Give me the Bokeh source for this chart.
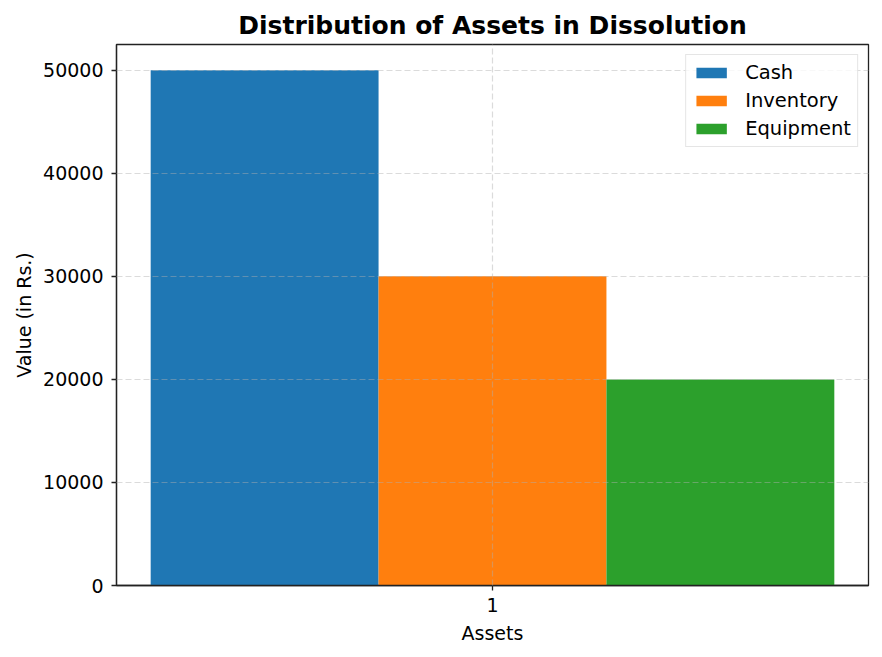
from bokeh.plotting import figure
from bokeh.models import Range1d, FixedTicker, Legend, LegendItem, ColumnDataSource
from bokeh.embed import file_html
from bokeh.resources import INLINE

categories = ["Cash", "Inventory", "Equipment"]
values = [50000, 30000, 20000]
colors = ["#1f77b4", "#ff7f0e", "#2ca02c"]
group_x = 1
bar_width = 0.3
offsets = [-0.3, 0.0, 0.3]
y_ticks = [0, 10000, 20000, 30000, 40000, 50000]

FONT = "DejaVu Sans"

p = figure(width=882, height=657, output_backend="svg", toolbar_location=None,
           x_range=Range1d(0.505, 1.495), y_range=Range1d(0, 52500),
           min_border_left=116, min_border_right=14, min_border_top=44,
           min_border_bottom=72)

renderers = []
for c, v, col, off in zip(categories, values, colors, offsets):
    src = ColumnDataSource(dict(x=[group_x + off], top=[v]))
    r = p.vbar(x="x", top="top", bottom=0, width=bar_width, source=src,
               fill_color=col, line_color=None)
    renderers.append((c, r))

legend = Legend(items=[LegendItem(label=c, renderers=[r]) for c, r in renderers],
                location="top_right")
legend.label_text_font = FONT
legend.label_text_font_size = "19.5px"
legend.label_text_color = "#000000"
legend.glyph_width = 38
legend.glyph_height = 13
legend.spacing = 5
legend.padding = 6
legend.margin = 10
legend.border_line_color = "#cccccc"
legend.border_line_width = 1
legend.background_fill_alpha = 0.8
legend.label_standoff = 15
p.add_layout(legend, "center")

p.title.text = "Distribution of Assets in Dissolution"
p.title.align = "center"
p.title.text_font = FONT
p.title.text_font_size = "25px"
p.title.text_font_style = "bold"
p.title.text_color = "#000000"
p.title.offset = 0
p.title.standoff = 10

p.outline_line_color = "#222222"
p.outline_line_width = 1.3

for ax in (p.xaxis[0], p.yaxis[0]):
    ax.axis_line_color = "#222222"
    ax.axis_line_width = 1.3
    ax.major_tick_line_color = "#222222"
    ax.major_tick_line_width = 1.3
    ax.major_tick_out = 5
    ax.major_tick_in = 0
    ax.minor_tick_line_color = None
    ax.major_label_text_font = FONT
    ax.major_label_text_font_size = "19px"
    ax.major_label_text_color = "#000000"
    ax.axis_label_text_font = FONT
    ax.axis_label_text_font_size = "19px"
    ax.axis_label_text_font_style = "normal"
    ax.axis_label_text_color = "#000000"

p.xaxis[0].ticker = FixedTicker(ticks=[group_x])
p.yaxis[0].ticker = FixedTicker(ticks=y_ticks)
p.xaxis[0].axis_label = "Assets"
p.yaxis[0].axis_label = "Value (in Rs.)"
p.xaxis[0].major_label_standoff = 7
p.xaxis[0].axis_label_standoff = 7
p.yaxis[0].major_label_standoff = 8
p.yaxis[0].axis_label_standoff = 5

for g in (p.xgrid[0], p.ygrid[0]):
    g.grid_line_color = "#b0b0b0"
    g.grid_line_alpha = 0.45
    g.grid_line_dash = "6 3"
    g.grid_line_width = 1.2
    g.level = "overlay"
p.xgrid[0].ticker = FixedTicker(ticks=[group_x])
p.ygrid[0].ticker = FixedTicker(ticks=y_ticks)

open("out.html", "w").write(file_html(p, INLINE))
